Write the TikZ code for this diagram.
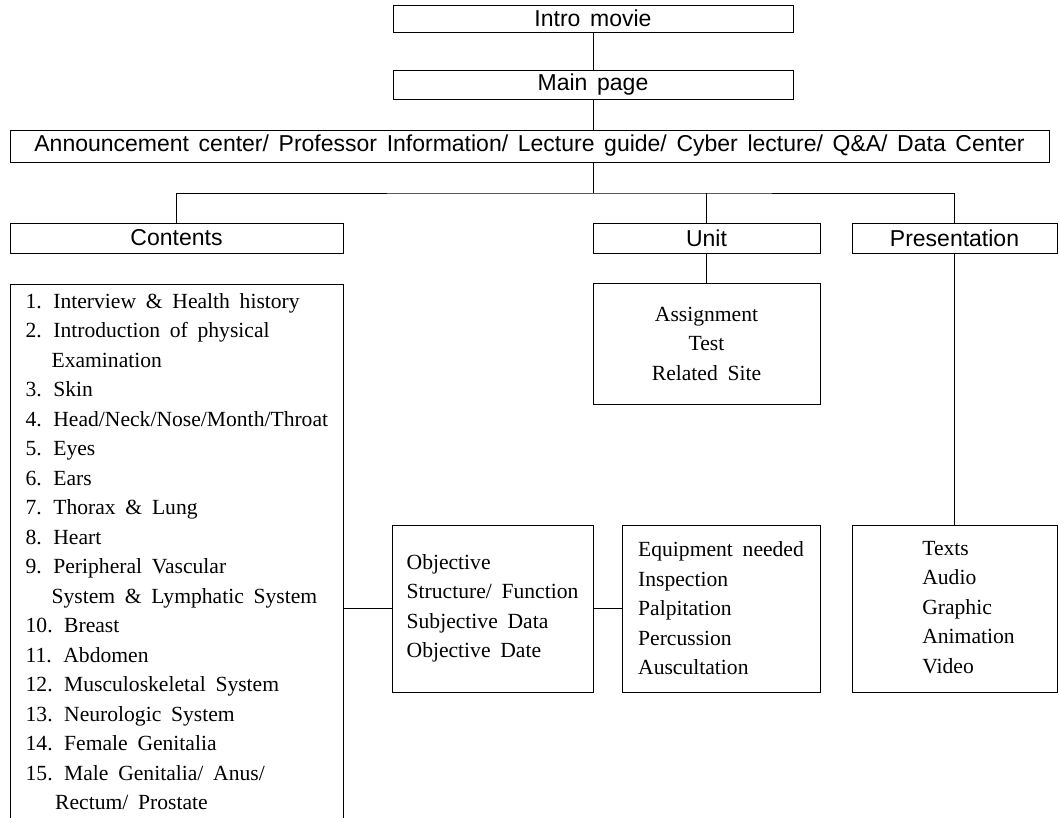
\documentclass[tikz,border=0pt]{standalone}
\usepackage{fontspec}
\setmainfont{Liberation Serif}
\setsansfont{Liberation Sans}
\usetikzlibrary{calc}

\newcommand\headfont{\sffamily\fontsize{11.5}{13}\selectfont\spaceskip=0.42em\relax}
\newcommand\cellfont{\fontsize{10.8}{14.75}\selectfont\spaceskip=0.45em\relax}

\begin{document}
\begin{tikzpicture}[x=0.5pt,y=-0.5pt,
	head/.style={draw,inner sep=0pt,minimum height=15pt,font=\headfont},
	cell/.style={draw,inner sep=0pt,minimum height=83.5pt,font=\cellfont}]
	\useasboundingbox (0,0) rectangle (1059,818);

	%INTRO, MAIN PAGE
	\node[head,minimum width=200pt,minimum height=13.5pt] (intro) at (593,18.5) {Intro movie};
	\node[head,minimum width=200pt,minimum height=14.5pt] (main) at (593,85) {Main page};
	\node[head,minimum width=519.5pt,minimum height=16pt] (announce) at (529.5,146)
		{Announcement center/ Professor Information/ Lecture guide/ Cyber lecture/ Q\&A/ Data Center};

	%CONTENTS, UNIT, PRESENTATION
	\node[head,minimum width=166.5pt] (contents) at (176.5,238) {Contents};
	\node[head,minimum width=113.5pt] (unit) at (706.5,238) {Unit};
	\node[head,minimum width=102.5pt] (pres) at (954.5,238) {Presentation};

	%LISTE
	\node[cell,anchor=north west,minimum width=166.5pt,minimum height=0pt,inner ysep=1.7pt] (list) at (10,284) {%
		\begin{tabular}{@{}l@{}}
			1. Interview \& Health history\\
			2. Introduction of physical\\
			\hphantom{2.\ }Examination\\
			3. Skin\\
			4. Head/Neck/Nose/Month/Throat\\
			5. Eyes\\
			6. Ears\\
			7. Thorax \& Lung\\
			8. Heart\\
			9. Peripheral Vascular\\
			\hphantom{9.\ }System \& Lymphatic System\\
			10. Breast\\
			11. Abdomen\\
			12. Musculoskeletal System\\
			13. Neurologic System\\
			14. Female Genitalia\\
			15. Male Genitalia/ Anus/\\
			\hphantom{1.\ \,}Rectum/ Prostate
		\end{tabular}};
	\node[cell,align=center,minimum width=113.5pt,minimum height=60.5pt] (assign) at (706.5,343.5)
		{Assignment\\Test\\Related Site};
	\node[cell,align=left,minimum width=100.5pt] (obj) at (492.5,608.5)
		{Objective\\Structure/ Function\\Subjective Data\\Objective Date};
	\node[cell,align=left,minimum width=99pt] (equip) at (721,608.5)
		{Equipment needed\\Inspection\\Palpitation\\Percussion\\Auscultation};
	\node[cell,minimum width=102.5pt] (media) at (954.5,608.5)
		{\begin{tabular}{@{\hspace{14pt}}l@{}}Texts\\Audio\\Graphic\\Animation\\Video\end{tabular}};

	%LIAISONS
	\coordinate (bus) at (593,193);
	\draw (intro) -- (main);
	\draw (main.south) -- (main.south |- announce.north);
	\draw (announce.south -| bus) -- (bus);
	\draw (contents.north) |- (bus) -| (pres.north);
	\draw (unit.north) -- (unit.north |- bus);
	\draw (unit) -- (assign);
	\draw (pres) -- (media);
	\draw (list.east |- obj.west) -- (obj.west);
	\draw (obj) -- (equip);
\end{tikzpicture}
\end{document}
